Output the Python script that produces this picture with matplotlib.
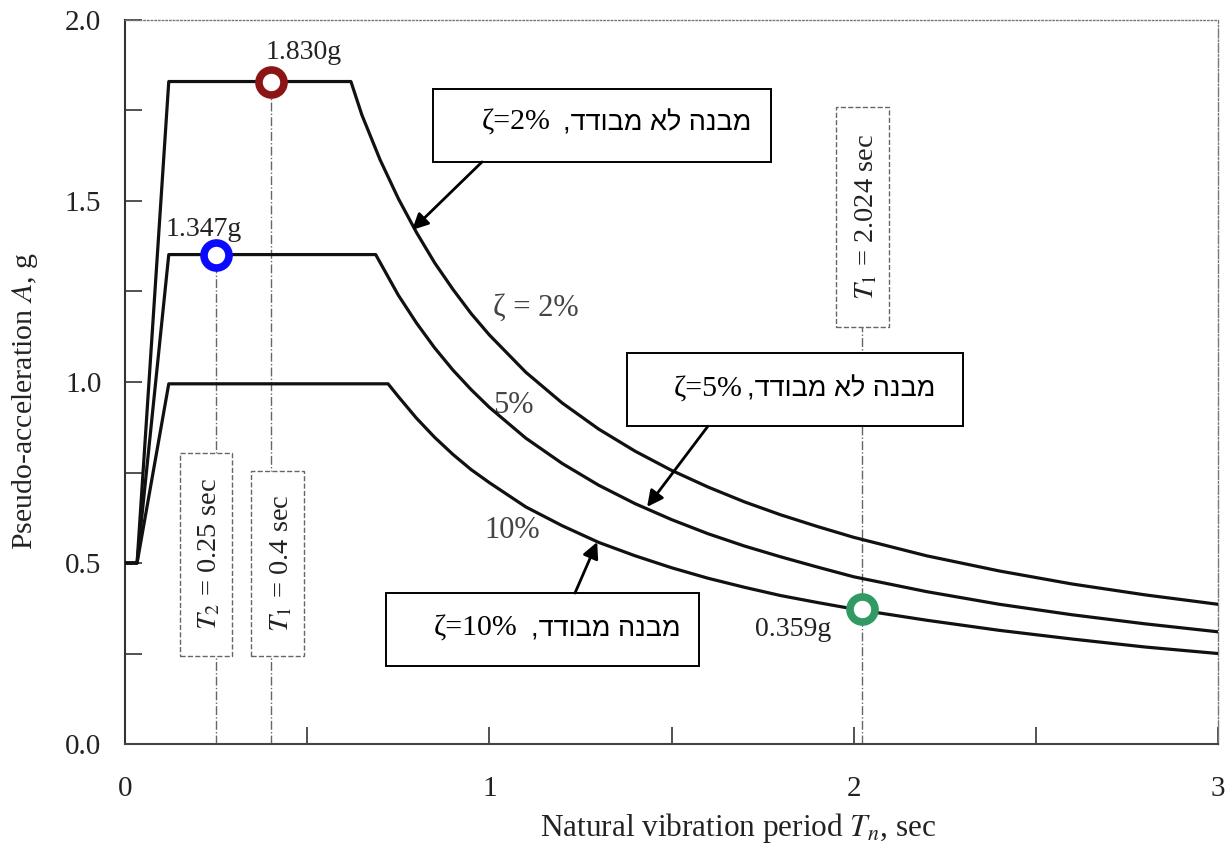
import matplotlib
matplotlib.use("Agg")
import matplotlib.pyplot as plt
from matplotlib.patches import Rectangle
from matplotlib.ticker import FormatStrFormatter

plt.rcParams["font.family"] = ["Liberation Serif", "DejaVu Serif"]
plt.rcParams["mathtext.fontset"] = "stix"

# design spectra: period (sec) vs pseudo-acceleration (g)
period_2 = [0.0, 0.033, 0.12, 0.62, 0.65, 0.7, 0.75, 0.8, 0.85, 0.9, 0.95,
            1.0, 1.1, 1.2, 1.3, 1.4, 1.5, 1.6, 1.7, 1.8, 1.9, 2.0, 2.2, 2.4,
            2.6, 2.8, 3.0]
accel_2 = [0.5, 0.5, 1.83, 1.83, 1.738, 1.614, 1.507, 1.413, 1.329, 1.256,
           1.189, 1.13, 1.027, 0.942, 0.870, 0.809, 0.756, 0.71, 0.669, 0.633,
           0.601, 0.571, 0.52, 0.478, 0.442, 0.412, 0.386]
period_5 = [0.0, 0.033, 0.12, 0.688, 0.75, 0.8, 0.85, 0.9, 0.95, 1.0,
            1.1, 1.2, 1.3, 1.4, 1.5, 1.6, 1.7, 1.8, 1.9, 2.0, 2.2, 2.4, 2.6,
            2.8, 3.0]
accel_5 = [0.5, 0.5, 1.352, 1.352, 1.24, 1.163, 1.094, 1.033, 0.979,
           0.93, 0.845, 0.775, 0.715, 0.664, 0.62, 0.581, 0.547, 0.517, 0.489,
           0.462, 0.421, 0.386, 0.357, 0.332, 0.31]
period_10 = [0.0, 0.033, 0.12, 0.722, 0.75, 0.8, 0.85, 0.9, 0.95, 1.0, 1.1,
             1.2, 1.3, 1.4, 1.5, 1.6, 1.7, 1.8, 1.9, 2.0, 2.2, 2.4, 2.6, 2.8,
             3.0]
accel_10 = [0.5, 0.5, 0.995, 0.995, 0.96, 0.90, 0.847, 0.80, 0.758, 0.722,
            0.655, 0.603, 0.557, 0.52, 0.487, 0.458, 0.433, 0.41, 0.391, 0.373,
            0.342, 0.314, 0.29, 0.268, 0.25]

curve_labels = ["ζ = 2%", "5%", "10%"]

# marked periods and spectral ordinates
mark_T = [0.4, 0.25, 2.024]
mark_A = [1.83, 1.352, 0.372]
mark_text = ["1.830g", "1.347g", "0.359g"]
mark_colors = ["#8c1414", "#0a0aff", "#2f9a62"]
period_text = [r"$T_1$ = 0.4 sec", r"$T_2$ = 0.25 sec", r"$T_1$ = 2.024 sec"]

# hebrew call-outs (logical order), damping text
heb_text = ["מבנה לא מבודד", "מבנה לא מבודד", "מבנה מבודד"]
zeta_text = ["ζ=2%", "ζ=5%", "ζ=10%"]

fig = plt.figure(figsize=(12.32, 8.43), dpi=100)
ax = fig.add_axes([0.1015, 0.1174, 0.8871, 0.8589])

for T, A in [(period_2, accel_2), (period_5, accel_5), (period_10, accel_10)]:
    ax.plot(T, A, color="#111111", lw=2.3, zorder=4)

# vertical dash-dot guides at the periods of interest
line_tops = [1.83, 1.352, 1.76]
for T, top in zip(mark_T, line_tops):
    ax.plot([T, T], [0, top], color="#666666", lw=1.0, ls="-.", zorder=1)

# dashed period boxes (T0, T1, A0, A1)
pbox = [(0.346, 0.491, 0.243, 0.754), (0.151, 0.294, 0.243, 0.804),
        (1.952, 2.097, 1.152, 1.76)]
for (x0, x1, y0, y1), txt in zip(pbox, period_text):
    ax.add_patch(Rectangle((x0, y0), x1 - x0, y1 - y0, facecolor="white",
                           edgecolor="#666666", lw=1.0, ls="--", zorder=2))
    ax.text((x0 + x1) / 2 + 0.01, (y0 + y1) / 2, txt, rotation=90,
            ha="center", va="center", fontsize=20.5, color="#222222", zorder=3)

# ring markers
for T, A, c in zip(mark_T, mark_A, mark_colors):
    ax.plot(T, A, "o", ms=18, mfc="white", mec=c, mew=5.5, zorder=6)

label_pos = [(0.491, 1.909), (0.217, 1.42), (1.834, 0.315)]
for (x, y), txt in zip(label_pos, mark_text):
    ax.text(x, y, txt, ha="center", va="center", fontsize=20, color="#222222")

curve_pos = [(1.128, 1.204), (1.065, 0.936), (1.062, 0.591)]
for (x, y), txt in zip(curve_pos, curve_labels):
    ax.text(x, y, txt, ha="center", va="center", fontsize=22, color="#444444")

# call-out boxes with arrows
cbox = [(0.845, 1.773, 1.608, 1.809), (1.378, 2.300, 0.878, 1.080),
        (0.716, 1.576, 0.215, 0.417)]
zeta_right = [1.169, 1.694, 1.076]
comma_left = [1.202, 1.707, 1.114]
base_y = [1.696, 0.961, 0.301]
arrows = [((0.98, 1.608), (0.788, 1.42)), ((1.60, 0.878), (1.433, 0.655)),
          ((1.235, 0.417), (1.296, 0.558))]
for i, (x0, x1, y0, y1) in enumerate(cbox):
    ax.add_patch(Rectangle((x0, y0), x1 - x0, y1 - y0, facecolor="white",
                           edgecolor="black", lw=1.4, zorder=7))
    ax.text(zeta_right[i], base_y[i], zeta_text[i], ha="right",
            va="baseline", fontsize=21.5, zorder=8)
    # matplotlib has no bidi support, so feed the hebrew in visual order
    ax.text(comma_left[i], base_y[i], (heb_text[i] + ",")[::-1], ha="left",
            va="baseline", fontsize=19.5, zorder=8,
            family=["Liberation Sans", "DejaVu Sans"])
    start, end = arrows[i]
    ax.annotate("", xy=end, xytext=start,
                arrowprops=dict(arrowstyle="-|>", color="black", lw=2.0,
                                mutation_scale=24, shrinkA=0, shrinkB=0),
                zorder=8)

ax.set_xlim(0, 3)
ax.set_ylim(0, 2)
ax.set_xticks([0, 1, 2, 3])
ax.set_xticks([0.5, 1.5, 2.5], minor=True)
ax.set_yticks([0, 0.5, 1.0, 1.5, 2.0])
ax.set_yticks([0.25, 0.75, 1.25, 1.75], minor=True)
ax.yaxis.set_major_formatter(FormatStrFormatter("%.1f"))
ax.tick_params(which="both", direction="in", length=12, width=1.2,
               colors="#333333", labelcolor="#222222", labelsize=21)
ax.tick_params(axis="x", which="major", pad=23)
ax.tick_params(axis="y", which="major", pad=17)

ax.spines["left"].set_linewidth(1.5)
ax.spines["left"].set_color("#333333")
ax.spines["bottom"].set_linewidth(1.5)
ax.spines["bottom"].set_color("#444444")
ax.spines["top"].set_linewidth(1.0)
ax.spines["top"].set_color("#777777")
ax.spines["top"].set_linestyle(":")
ax.spines["right"].set_linewidth(1.0)
ax.spines["right"].set_color("#777777")
ax.spines["right"].set_linestyle("-.")

ax.set_ylabel(r"Pseudo-acceleration $A$, g", fontsize=21.5, color="#222222")
ax.set_xlabel(r"Natural vibration period $T_n$, sec", fontsize=22.5,
              color="#222222", ha="left", va="baseline")
ax.yaxis.set_label_coords(-0.0775, 0.474)
ax.xaxis.set_label_coords(0.38, -0.127)

fig.savefig("out.png", dpi=100)
